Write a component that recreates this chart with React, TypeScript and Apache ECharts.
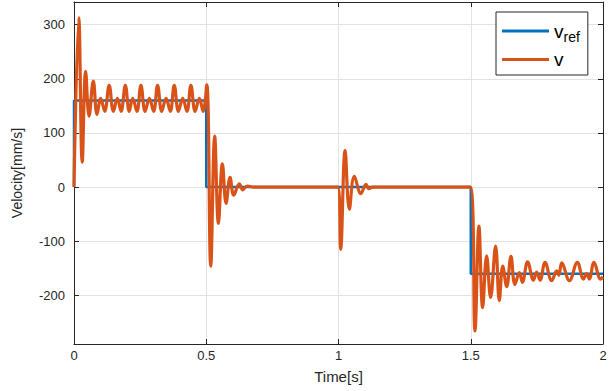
import React, { useEffect, useRef } from "react";
import * as echarts from "echarts";

const xTicks = [0, 0.5, 1, 1.5, 2];
const yLabelTicks = [-200, -100, 0, 100, 200, 300];

const vrefTime = [0, 0, 0.5, 0.5, 1.5, 1.5, 2];
const vrefValue = [0, 160, 160, 0, 0, -160, -160];

const vTime = [
  0, 0.018, 0.031, 0.044, 0.057, 0.073, 0.087, 0.101, 0.116, 0.133, 0.149, 0.164, 0.178, 0.194,
  0.209, 0.222, 0.238, 0.253, 0.269, 0.285, 0.301, 0.316, 0.332, 0.348, 0.364, 0.379, 0.395,
  0.411, 0.427, 0.442, 0.458, 0.474, 0.488, 0.502, 0.517, 0.532, 0.546, 0.561, 0.575, 0.59,
  0.604, 0.625, 0.638, 0.655, 0.68, 0.998, 1.008, 1.025, 1.041, 1.06, 1.085, 1.104, 1.115, 1.13,
  1.499, 1.516, 1.531, 1.545, 1.56, 1.575, 1.594, 1.608, 1.621, 1.636, 1.652, 1.667, 1.684,
  1.695, 1.715, 1.737, 1.749, 1.762, 1.781, 1.806, 1.825, 1.833, 1.844, 1.873, 1.903, 1.926,
  1.938, 1.948, 1.966, 1.991, 2.0,
];
const vValue = [
  0, 313, 46, 214, 131, 196, 134, 164, 140, 188, 140, 164, 140, 188,
  140, 164, 140, 188, 140, 164, 140, 188, 140, 164, 140, 188, 140,
  164, 140, 188, 140, 164, 140, 189, -146, 94, -67, 43, -30, 18,
  -15, 6, -5, 2, 0, 0, -115, 68, -41, 20, -12, 5, -3, 0,
  0, -266, -72, -223, -127, -204, -109, -210, -146, -184, -128, -180, -158,
  -176, -138, -172, -157, -172, -139, -173, -155, -163, -140, -173, -139, -170,
  -160, -170, -139, -170, -166,
];

const font = "'Liberation Sans', Arial, sans-serif";
const textColor = "#262626";

export default function App() {
  const ref = useRef<HTMLDivElement>(null);
  useEffect(() => {
    document.body.style.margin = "0";
    if (!ref.current) return;
    const chart = echarts.init(ref.current, undefined, { renderer: "svg" });
    const vrefData = vrefTime.map((t, i) => [t, vrefValue[i]]);
    const vData = vTime.map((t, i) => [t, vValue[i]]);
    const axisLine = { show: true, onZero: false, lineStyle: { color: textColor, width: 1 } };
    const tick = { show: true, inside: true, length: 5, lineStyle: { color: textColor } };
    chart.setOption({
      animation: false,
      backgroundColor: "#ffffff",
      grid: { left: 74, right: 7, top: 2, bottom: 47, containLabel: false },
      legend: {
        left: 496,
        top: 12,
        orient: "vertical",
        backgroundColor: "#ffffff",
        borderColor: textColor,
        borderWidth: 1,
        padding: [6, 8, 6, 6],
        itemGap: 6,
        itemWidth: 47,
        itemHeight: 3,
        icon: "rect",
        data: ["vref", "v"],
        formatter: (name: string) => (name === "vref" ? "{a|v}{s|ref}" : "{a|v}"),
        textStyle: {
          color: "#000000",
          fontFamily: font,
          rich: {
            a: { fontSize: 19, fontFamily: font, color: "#000", lineHeight: 22 },
            s: { fontSize: 14, fontFamily: font, color: "#000", padding: [12, 0, 0, 0], lineHeight: 22 },
          },
        },
      },
      xAxis: [
        {
          type: "value",
          min: 0,
          max: 2,
          interval: 0.5,
          name: "Time[s]",
          nameLocation: "middle",
          nameGap: 25,
          nameTextStyle: { fontFamily: font, fontSize: 15, color: textColor },
          axisLine,
          axisTick: tick,
          axisLabel: {
            margin: 5,
            fontFamily: font,
            fontSize: 13,
            color: textColor,
            formatter: (v: number) => (xTicks.includes(v) ? String(v) : ""),
          },
          splitLine: { show: true, lineStyle: { color: "#e3e3e3", width: 1 } },
        },
        {
          type: "value",
          position: "top",
          min: 0,
          max: 2,
          interval: 0.5,
          axisLine,
          axisTick: tick,
          axisLabel: { show: false },
          splitLine: { show: false },
        },
      ],
      yAxis: [
        {
          type: "value",
          min: -290,
          max: 342,
          splitNumber: 6,
          name: "Velocity[mm/s]",
          nameLocation: "middle",
          nameGap: 50,
          nameTextStyle: { fontFamily: font, fontSize: 14, color: textColor },
          axisLine,
          axisTick: tick,
          axisLabel: {
            margin: 9,
            fontFamily: font,
            fontSize: 13,
            color: textColor,
            showMinLabel: false,
            showMaxLabel: false,
            formatter: (v: number) => (yLabelTicks.includes(v) ? String(v) : ""),
          },
          splitLine: { show: true, lineStyle: { color: "#e3e3e3", width: 1 } },
        },
        {
          type: "value",
          position: "right",
          min: -290,
          max: 342,
          splitNumber: 6,
          axisLine,
          axisTick: tick,
          axisLabel: { show: false },
          splitLine: { show: false },
        },
      ],
      series: [
        {
          name: "vref",
          type: "line",
          data: vrefData,
          showSymbol: false,
          symbol: "none",
          lineStyle: { color: "#0072BD", width: 2.5 },
          itemStyle: { color: "#0072BD" },
          z: 2,
        },
        {
          name: "v",
          type: "line",
          data: vData,
          showSymbol: false,
          symbol: "none",
          smooth: 0.4,
          lineStyle: { color: "#D95319", width: 3.2 },
          itemStyle: { color: "#D95319" },
          z: 3,
        },
      ],
    });
    return () => chart.dispose();
  }, []);
  return <div ref={ref} style={{ width: 610, height: 391 }} />;
}
